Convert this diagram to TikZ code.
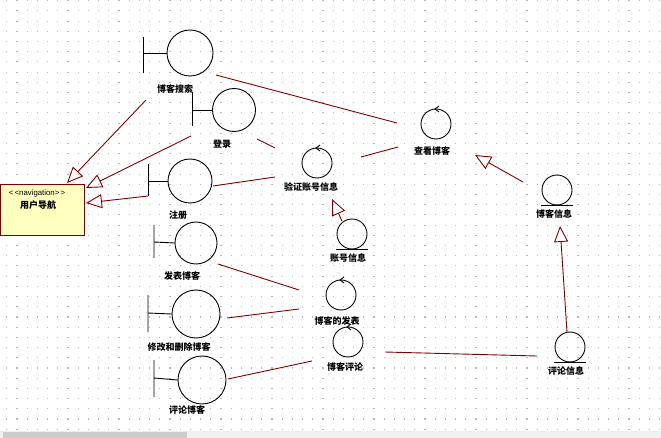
\documentclass[tikz,border=0pt]{standalone}
\usepackage{fontspec}
\setmainfont{Liberation Sans}
\newfontfamily\cjk{Noto Sans CJK SC}
\usetikzlibrary{arrows.meta}
\definecolor{lnk}{HTML}{800000}
\definecolor{boxfill}{HTML}{FFFFC0}
\definecolor{griddot}{HTML}{B8B8B8}
\tikzset{
  obj/.style={draw=black, line width=0.9pt, circle, inner sep=0pt, minimum size=#1},
  lbl/.style={font=\cjk\bfseries\fontsize{9}{10}\selectfont, inner sep=0pt, text=black},
  assoc/.style={draw=lnk, line width=0.9pt},
  gen/.style={draw=lnk, line width=0.9pt, -{Triangle[open, length=16pt, width=14pt, line width=0.9pt]}},
  symb/.style={draw=black, line width=0.9pt}
}
\begin{document}
\begin{tikzpicture}[x=1pt, y=-1pt]
\useasboundingbox (0,0) rectangle (661,438);
\fill[white] (0,0) rectangle (661,438);
% dot grid
\foreach \i in {0,...,64}{
  \foreach \j in {0,...,42}{
    \fill[griddot] ({6.2+10.2*\i},{0.2+10.2*\j}) rectangle ++(1.1,1.1);
  }
}
% scrollbar
\fill[black!6] (0,431) rectangle (661,438);
\fill[black!20] (3,432) rectangle (187,438);

% ---------- boundary objects ----------
\node[obj=46pt] (bsearch) at (190,53) {};
\draw[symb] (143,37) -- (143,73) (143,53) -- (bsearch.west);
\node[lbl] (lsearch) at (175,89) {博客搜索};

\node[obj=43pt] (blogin) at (234,110) {};
\draw[symb] (192,92) -- (192,126) (192,110) -- (blogin.west);
\node[lbl] (llogin) at (222,144) {登录};

\node[obj=44pt] (breg) at (190,181) {};
\draw[symb] (148,164) -- (148,196) (148,181) -- (breg.west);
\node[lbl] (lreg) at (178,215) {注册};

\node[obj=42pt] (bpub) at (196,243) {};
\draw[symb] (154,225) -- (154,258) (154,242) -- (bpub.west);
\node[lbl] (lpub) at (182,276) {发表博客};

\node[obj=48pt] (bmod) at (196,314) {};
\draw[symb] (148,295) -- (148,332) (148,313) -- (bmod.west);
\node[lbl] (lmod) at (179,347) {修改和删除博客};

\node[obj=48pt] (bcom) at (202,380) {};
\draw[symb] (154,360) -- (154,397) (154,378) -- (bcom.west);
\node[lbl] (lcom) at (187,410) {评论博客};

% ---------- control objects ----------
\node[obj=30pt] (cver) at (317,163) {};
\draw[symb] (320,145) -- (316,148) -- (320,151);
\node[lbl] (lver) at (311,187) {验证账号信息};

\node[obj=30pt] (cview) at (436,124) {};
\draw[symb] (439,106) -- (435,109) -- (439,112);
\node[lbl] (lview) at (432,151) {查看博客};

\node[obj=30pt] (cpub) at (341,295) {};
\draw[symb] (344,277) -- (340,280) -- (344,283);
\node[lbl] (lcpub) at (337,321) {博客的发表};

\node[obj=30pt] (ccom) at (348,342) {};
\draw[symb] (351,324) -- (347,327) -- (351,330);
\node[lbl] (lccom) at (345,367) {博客评论};

% ---------- entity objects ----------
\node[obj=30pt] (eacc) at (352,234) {};
\draw[symb] (336,249.5) -- (368,249.5);
\node[lbl] (leacc) at (348,258) {账号信息};

\node[obj=30pt] (eblog) at (557,190) {};
\draw[symb] (541,205.5) -- (573,205.5);
\node[lbl] (leblog) at (554,214) {博客信息};

\node[obj=30pt] (ecom) at (570,347) {};
\draw[symb] (554,362.5) -- (586,362.5);
\node[lbl] (lecom) at (566,371) {评论信息};

% ---------- navigation box ----------
\node[draw=lnk, fill=boxfill, line width=0.9pt, minimum width=84pt, minimum height=51pt,
      inner sep=0pt, anchor=north west] (nav) at (0,184) {};
\node[font=\fontsize{7.8}{8}\selectfont, inner sep=0pt] (navst) at (37,193) {<\,<navigation>\,>};
\node[lbl] (navname) at (38,205) {用户导航};

% ---------- connector end points ----------
\coordinate (p1) at (146,100); \coordinate (q1) at (67,183);
\coordinate (p2) at (191,136); \coordinate (q2) at (86,188);
\coordinate (p3) at (148,196); \coordinate (q3) at (86,203);
\coordinate (p4) at (216,75);  \coordinate (q4) at (397,123);
\coordinate (p5) at (257,139); \coordinate (q5) at (275,148);
\coordinate (p6) at (213,186); \coordinate (q6) at (275,177);
\coordinate (p7) at (361,157); \coordinate (q7) at (398,147);
\coordinate (p8) at (342,221); \coordinate (q8) at (332,199);
\coordinate (p9) at (523,182); \coordinate (q9) at (475,155);
\coordinate (p10) at (567,332); \coordinate (q10) at (560,226);
\coordinate (p11) at (385,352); \coordinate (q11) at (537,356);
\coordinate (p12) at (218,264); \coordinate (q12) at (299,290);
\coordinate (p13) at (227,318); \coordinate (q13) at (299,309);
\coordinate (p14) at (228,379); \coordinate (q14) at (312,361);

% ---------- connectors ----------
\draw[gen] (p1) -- (q1);
\draw[gen] (p2) -- (q2);
\draw[gen] (p3) -- (q3);
\draw[assoc] (p4) -- (q4);
\draw[assoc] (p5) -- (q5);
\draw[assoc] (p6) -- (q6);
\draw[assoc] (p7) -- (q7);
\draw[gen] (p8) -- (q8);
\draw[gen] (p9) -- (q9);
\draw[gen] (p10) -- (q10);
\draw[assoc] (p11) -- (q11);
\draw[assoc] (p12) -- (q12);
\draw[assoc] (p13) -- (q13);
\draw[assoc] (p14) -- (q14);
\end{tikzpicture}
\end{document}
